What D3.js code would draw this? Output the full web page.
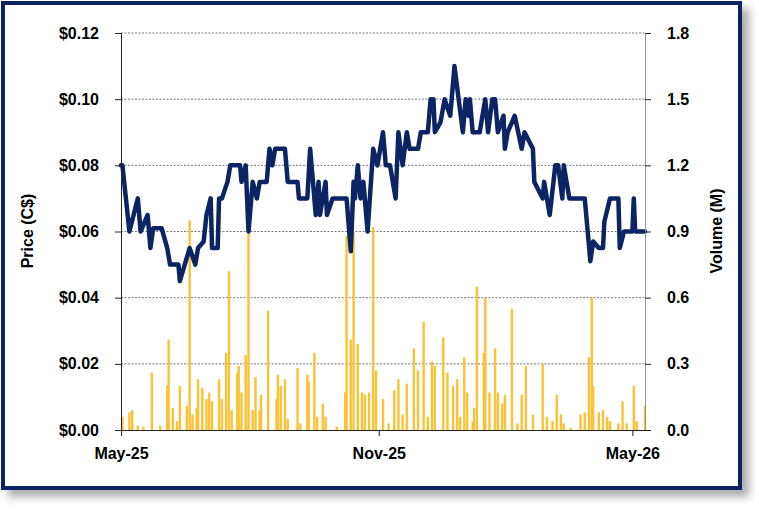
<!DOCTYPE html>
<html>
<head>
<meta charset="utf-8">
<script src="https://cdn.jsdelivr.net/npm/d3@7"></script>
<style>
  body { margin: 0; background: #fff; }
  text { font-family: "Liberation Sans", Arial, sans-serif; font-weight: bold; fill: #000; }
</style>
</head>
<body>
<svg id="svg"></svg>
<script>
// days counted from 2025-05-01
const priceDays = [0,1,6,12,14,19,21,23,29,33,35,41,42,49,53,55,59,61,64,65,69,70,72,76,78,85,86,89,91,94,97,99,104,106,108,110,117,119,126,127,133,135,139,141,142,146,147,151,161,164,166,167,169,171,173,176,180,183,187,189,192,196,198,201,204,206,212,214,219,221,223,224,228,231,235,238,241,244,246,248,249,251,256,260,262,265,267,269,273,274,276,281,286,288,294,295,301,302,306,310,312,315,316,320,331,335,337,341,344,345,349,355,356,359,365,366,367,374];
const priceValues = [0.080,0.080,0.060,0.070,0.060,0.065,0.055,0.061,0.061,0.055,0.050,0.050,0.045,0.055,0.050,0.055,0.057,0.065,0.070,0.055,0.055,0.070,0.070,0.075,0.080,0.080,0.075,0.080,0.060,0.075,0.070,0.075,0.075,0.085,0.080,0.085,0.085,0.075,0.075,0.070,0.070,0.085,0.065,0.075,0.065,0.075,0.065,0.070,0.070,0.054,0.075,0.070,0.080,0.070,0.075,0.060,0.085,0.080,0.090,0.080,0.080,0.070,0.090,0.080,0.090,0.085,0.085,0.090,0.090,0.100,0.100,0.090,0.093,0.100,0.095,0.110,0.100,0.090,0.100,0.095,0.100,0.090,0.090,0.100,0.090,0.100,0.100,0.090,0.095,0.085,0.090,0.095,0.085,0.090,0.085,0.075,0.070,0.075,0.065,0.080,0.080,0.070,0.080,0.070,0.070,0.051,0.057,0.055,0.055,0.063,0.070,0.070,0.055,0.060,0.060,0.070,0.060,0.060];

const volumeDays = [1,6,8,12,16,22,28,33,34,37,40,42,47,49,51,54,55,58,61,63,65,70,72,75,77,79,83,84,86,89,91,94,96,99,100,105,111,112,114,117,119,126,128,133,134,138,140,144,146,154,160,161,164,166,169,172,174,177,180,182,187,191,195,198,201,204,209,212,216,219,222,224,230,233,237,240,242,245,247,251,252,254,259,260,263,267,269,272,274,279,283,286,289,294,301,304,308,311,314,316,321,328,331,334,336,337,341,344,347,349,355,358,361,366,368,374];
const volumeValues = [0.06,0.08,0.09,0.02,0.015,0.26,0.02,0.2,0.41,0.1,0.04,0.2,0.11,0.95,0.07,0.1,0.23,0.19,0.14,0.17,0.13,0.23,0.14,0.35,0.72,0.09,0.26,0.29,0.17,0.34,0.9,0.09,0.24,0.09,0.16,0.54,0.14,0.25,0.2,0.23,0.05,0.28,0.03,0.25,0.22,0.35,0.06,0.12,0.06,0.015,0.17,0.88,0.41,0.9,0.39,0.17,0.16,0.17,0.92,0.27,0.14,0.03,0.18,0.23,0.07,0.21,0.37,0.27,0.49,0.06,0.31,0.29,0.42,0.26,0.2,0.23,0.06,0.33,0.17,0.04,0.1,0.65,0.35,0.6,0.17,0.37,0.17,0.12,0.16,0.55,0.03,0.16,0.29,0.07,0.3,0.06,0.04,0.16,0.07,0.03,0.01,0.07,0.08,0.33,0.6,0.2,0.08,0.09,0.06,0.04,0.03,0.13,0.03,0.2,0.04,0.11];

const priceTicks = [0, 0.02, 0.04, 0.06, 0.08, 0.10, 0.12];
const volumeTicks = [0, 0.3, 0.6, 0.9, 1.2, 1.5, 1.8];
const dateTicks = ["2025-05-01", "2025-11-01", "2026-05-01"];

const W = 759, H = 509;
const mLeft = 121, mRight = 645, mTop = 33, mBottom = 430;
const start = new Date(2025, 4, 1);
const dayDate = d => d3.timeDay.offset(start, d);

const svg = d3.select("#svg").attr("width", W).attr("height", H);

const defs = svg.append("defs");
const f = defs.append("filter").attr("id", "shadow").attr("x", "-5%").attr("y", "-5%").attr("width", "115%").attr("height", "115%");
f.append("feDropShadow").attr("dx", 7).attr("dy", 7).attr("stdDeviation", 4).attr("flood-color", "#888").attr("flood-opacity", 0.7);

svg.append("rect").attr("x", 3).attr("y", 3).attr("width", 737).attr("height", 485)
  .attr("fill", "#fff").attr("stroke", "#0b2161").attr("stroke-width", 4)
  .attr("filter", "url(#shadow)");

const x = d3.scaleTime().domain([start, dayDate(374)]).range([mLeft, mRight]);
const y = d3.scaleLinear().domain([0, 0.12]).range([mBottom, mTop]);
const yv = d3.scaleLinear().domain([0, 1.8]).range([mBottom, mTop]);

// grid
svg.append("g").selectAll("line").data(priceTicks.slice(1)).join("line")
  .attr("x1", mLeft).attr("x2", mRight)
  .attr("y1", d => y(d)).attr("y2", d => y(d))
  .attr("stroke", "#555").attr("stroke-width", 0.8).attr("stroke-dasharray", "2,1.5");

// volume bars
const nv = Math.min(volumeDays.length, volumeValues.length);
svg.append("g").selectAll("rect").data(volumeDays.slice(0, nv)).join("rect")
  .attr("x", (d) => x(dayDate(d)) - 1.2)
  .attr("width", 2.4)
  .attr("y", (d, i) => yv(volumeValues[i]))
  .attr("height", (d, i) => mBottom - yv(volumeValues[i]))
  .attr("fill", "#fbc235");

// price line
const np = Math.min(priceDays.length, priceValues.length);
const pts = priceDays.slice(0, np).map((d, i) => [x(dayDate(d)), y(priceValues[i])]);
svg.append("path").attr("d", d3.line()(pts))
  .attr("fill", "none").attr("stroke", "#0b2463").attr("stroke-width", 4.5)
  .attr("stroke-linejoin", "round").attr("stroke-linecap", "round");

// axes
const axL = svg.append("g").attr("transform", `translate(${mLeft},0)`)
  .call(d3.axisLeft(y).tickValues(priceTicks).tickFormat(d => "$" + d3.format(".2f")(d)).tickSize(6).tickPadding(16));
const axR = svg.append("g").attr("transform", `translate(${mRight},0)`)
  .call(d3.axisRight(yv).tickValues(volumeTicks).tickFormat(d3.format(".1f")).tickSize(6).tickPadding(16));
const axB = svg.append("g").attr("transform", `translate(0,${mBottom})`)
  .call(d3.axisBottom(x).tickValues(dateTicks.map(s => d3.timeParse("%Y-%m-%d")(s))).tickFormat(d3.timeFormat("%b-%y")).tickSize(6).tickPadding(12));
axB.select(".domain").attr("d", `M${mLeft},0.5H${mRight}`);
[axL, axR, axB].forEach(a => {
  a.selectAll("text").style("font-size", "16px").style("font-weight", "bold")
    .style("font-family", "'Liberation Sans', Arial, sans-serif").attr("fill", "#000");
  a.select(".domain").attr("stroke", "#222");
  a.selectAll(".tick line").attr("stroke", "#222");
});
axR.select(".domain").attr("stroke", "#999");

svg.append("text").attr("transform", "translate(33,231) rotate(-90)")
  .attr("text-anchor", "middle").style("font-size", "16px").text("Price (C$)");
svg.append("text").attr("transform", "translate(722,231) rotate(-90)")
  .attr("text-anchor", "middle").style("font-size", "16px").text("Volume (M)");
</script>
</body>
</html>
